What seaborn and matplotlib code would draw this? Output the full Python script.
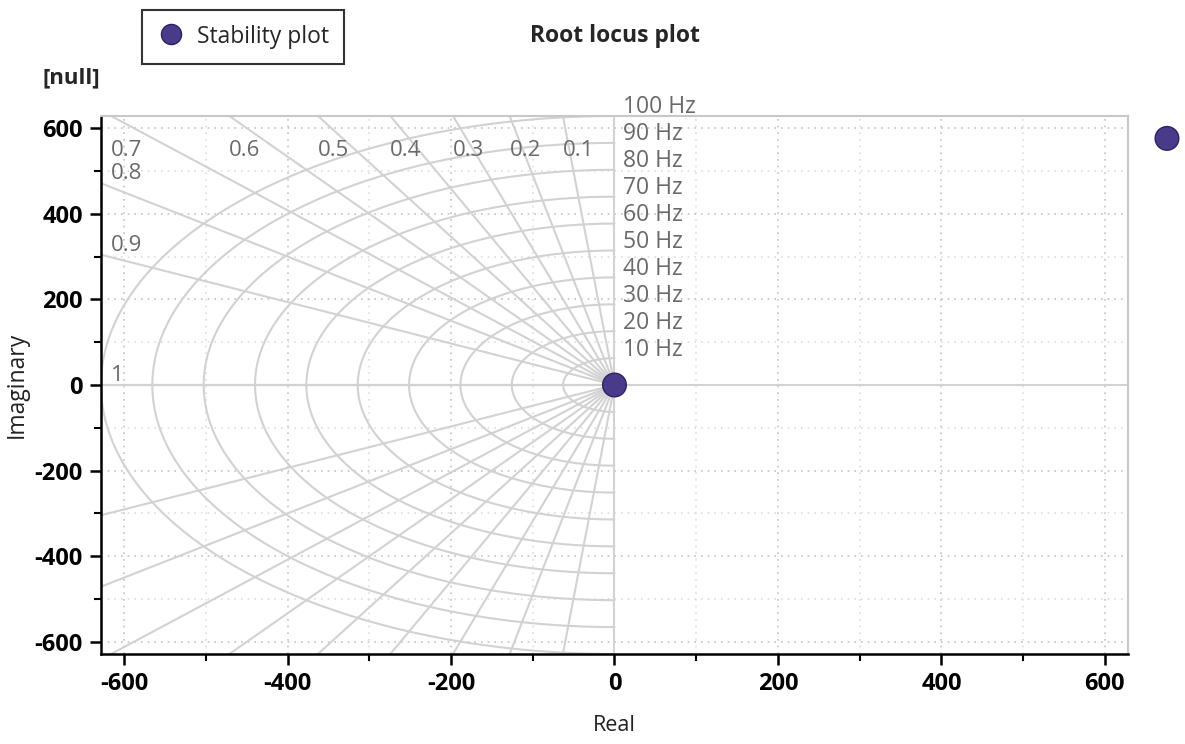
import numpy as np
import pandas as pd
import seaborn as sns
import matplotlib
matplotlib.use("Agg")
import matplotlib.pyplot as plt
from matplotlib.ticker import MultipleLocator

# ---- data ----
stability_real = [0.0, 676.0]
stability_imag = [0.0, 576.0]
series_name = "Stability plot"
damping_values = [0.1, 0.2, 0.3, 0.4, 0.5, 0.6, 0.7, 0.8, 0.9, 1.0]
damping_labels = ["0.1", "0.2", "0.3", "0.4", "0.5", "0.6", "0.7", "0.8", "0.9", "1"]
freq_hz = [10, 20, 30, 40, 50, 60, 70, 80, 90, 100]
freq_labels = ["10 Hz", "20 Hz", "30 Hz", "40 Hz", "50 Hz", "60 Hz", "70 Hz", "80 Hz", "90 Hz", "100 Hz"]
x_ticks = [-600, -400, -200, 0, 200, 400, 600]
y_ticks = [-600, -400, -200, 0, 200, 400, 600]

sns.set_theme(style="white")
plt.rcParams['font.family'] = ['Open Sans', 'DejaVu Sans']

fig = plt.figure(figsize=(11.85, 7.44), dpi=100)
ax = fig.add_axes([0.0852, 0.121, 0.8667, 0.7231])

lim = 2 * np.pi * max(freq_hz)
ax.set_xlim(-lim, lim)
ax.set_ylim(-lim, lim)

gcol = "#d2d2d2"
lcol = "#6a6a6a"
ax.xaxis.set_major_locator(MultipleLocator(200))
ax.xaxis.set_minor_locator(MultipleLocator(100))
ax.yaxis.set_major_locator(MultipleLocator(200))
ax.yaxis.set_minor_locator(MultipleLocator(100))
ax.grid(True, which="major", color="#c4c4c4", linestyle=(0, (1, 3)), linewidth=1.2, zorder=0)
ax.grid(True, which="minor", color="#dedede", linestyle=(0, (1, 3)), linewidth=1.2, zorder=0)
ax.set_axisbelow(True)

# frequency contours (left half)
th = np.linspace(np.pi / 2, 3 * np.pi / 2, 400)
for f, lab in zip(freq_hz, freq_labels):
    w = 2 * np.pi * f
    ax.plot(w * np.cos(th), w * np.sin(th), color=gcol, lw=1.5, zorder=1)
    ax.text(10, w - 8, lab, color=lcol, fontsize=16.5, ha="left", va="bottom", zorder=3)

# damping lines
for z, lab in zip(damping_values, damping_labels):
    dx, dy = -z, np.sqrt(1 - z ** 2)
    R = 3000
    ax.plot([0, dx * R], [0, dy * R], color=gcol, lw=1.5, zorder=1)
    ax.plot([0, dx * R], [0, -dy * R], color=gcol, lw=1.5, zorder=1)
    yh = dy / -dx * lim
    if yh >= lim:
        xh = dx / dy * lim
        ax.text(xh, 548, lab, color=lcol, fontsize=16, ha="left", va="center", zorder=3)
    else:
        ax.text(-lim + 12, yh + 22, lab, color=lcol, fontsize=16, ha="left", va="center", zorder=3)

# axes lines
ax.plot([0, 0], [-lim, lim], color=gcol, lw=1.5, zorder=1)
ax.plot([-lim, lim], [0, 0], color=gcol, lw=1.5, zorder=1)

# data points
df = pd.DataFrame({"Real": stability_real, "Imaginary": stability_imag, "series": series_name})
sns.scatterplot(data=df, x="Real", y="Imaginary", hue="series", palette=["#4a3a8a"],
                s=290, edgecolor="#2e2266", linewidth=1.0, ax=ax, zorder=5, clip_on=False,
                legend=True)

for side in ["top", "right"]:
    ax.spines[side].set_color("#c8c8c8")
    ax.spines[side].set_linewidth(1.5)
for side in ["left", "bottom"]:
    ax.spines[side].set_color("black")
    ax.spines[side].set_linewidth(1.8)

ax.set_xticks(x_ticks)
ax.set_yticks(y_ticks)
ax.set_xticklabels([str(t) for t in x_ticks], fontweight="bold")
ax.set_yticklabels([str(t) for t in y_ticks], fontweight="bold")
ax.tick_params(axis="both", which="major", direction="out", length=8, width=1.8,
               color="black", labelsize=17, labelcolor="black", bottom=True, left=True, pad=5)
ax.tick_params(axis="both", which="minor", direction="out", length=5, width=1.5,
               color="black", bottom=True, left=True)

ax.set_xlabel("Real", fontsize=15.5, color="#222222", labelpad=14)
ax.set_ylabel("Imaginary", fontsize=16.5, color="#222222", labelpad=4)

fig.text(0.519, 0.951, "Root locus plot", fontsize=16.5, fontweight="bold", ha="center", va="center")
fig.text(0.036, 0.895, "[null]", fontsize=16, fontweight="bold", ha="left", va="center")

leg = ax.legend(loc="upper left", bbox_to_anchor=(0.1198, 0.987), bbox_transform=fig.transFigure,
                frameon=True, fancybox=False, fontsize=16.5, markerscale=0.85,
                handlelength=1.2, handleheight=1.1, handletextpad=0.55, borderpad=0.65,
                borderaxespad=0.0, title=None)
leg.get_frame().set_edgecolor("black")
leg.get_frame().set_linewidth(1.5)

fig.savefig("out.png", dpi=100)
